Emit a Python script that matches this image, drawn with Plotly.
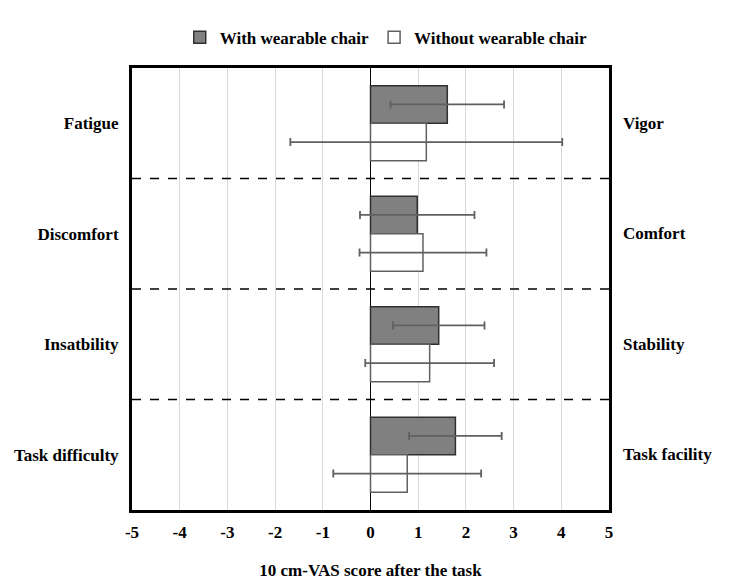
import plotly.graph_objects as go

categories = ["Fatigue", "Discomfort", "Insatbility", "Task difficulty"]
right_labels = ["Vigor", "Comfort", "Stability", "Task facility"]
with_mean = [1.61, 0.98, 1.43, 1.78]
with_sd = [1.19, 1.20, 0.96, 0.97]
without_mean = [1.17, 1.10, 1.24, 0.77]
without_sd = [2.85, 1.33, 1.35, 1.55]
x_ticks = [-5, -4, -3, -2, -1, 0, 1, 2, 3, 4, 5]

FONT = "Liberation Serif"
FS = 17

fig = go.Figure()
fig.add_trace(go.Bar(
    name="With wearable chair", y=categories, x=with_mean, orientation="h",
    marker=dict(color="#808080", line=dict(color="#303030", width=1.5)),
    error_x=dict(type="data", array=with_sd, color="#606060", thickness=1.8, width=4),
))
fig.add_trace(go.Bar(
    name="Without wearable chair", y=categories, x=without_mean, orientation="h",
    marker=dict(color="#ffffff", line=dict(color="#606060", width=1.5)),
    error_x=dict(type="data", array=without_sd, color="#606060", thickness=1.8, width=4),
))

for yv in [0.5, 1.5, 2.5]:
    fig.add_shape(type="line", xref="paper", x0=0, x1=1, yref="y", y0=yv, y1=yv,
                  line=dict(color="black", width=1.3, dash="dash"), layer="above")

for cat, lab in zip(categories, right_labels):
    fig.add_annotation(text=lab, xref="paper", x=1.0, xanchor="left", xshift=12,
                       yref="y", y=cat, showarrow=False,
                       font=dict(family=FONT, size=FS, color="black", weight="bold"))

fig.update_layout(
    width=742, height=572,
    margin=dict(l=124, r=141, t=60, b=70, autoexpand=False),
    paper_bgcolor="white", plot_bgcolor="white",
    font=dict(family=FONT, size=FS, color="black", weight="bold"),
    barmode="group", bargap=0.32, bargroupgap=0,
    showlegend=True,
    legend=dict(orientation="h", x=0.533, xanchor="center", y=0.948, yanchor="middle",
                yref="container", font=dict(family=FONT, size=FS, weight="bold"),
                traceorder="normal", itemwidth=30),
    xaxis=dict(range=[-5, 5], tickvals=x_ticks, ticktext=[str(v) for v in x_ticks],
               showgrid=True, gridcolor="#d9d9d9", gridwidth=1,
               zeroline=True, zerolinecolor="black", zerolinewidth=1,
               showline=True, linecolor="black", linewidth=3, mirror=True,
               ticks="", ticklabelstandoff=5, automargin=False,
               title=dict(text="10 cm-VAS score after the task", standoff=26,
                          font=dict(family=FONT, size=FS, weight="bold"))),
    yaxis=dict(autorange="reversed", showgrid=False, zeroline=False,
               showline=True, linecolor="black", linewidth=3, mirror=True,
               ticks="", ticklabelstandoff=7, automargin=False),
)

fig.write_html("out.html")
